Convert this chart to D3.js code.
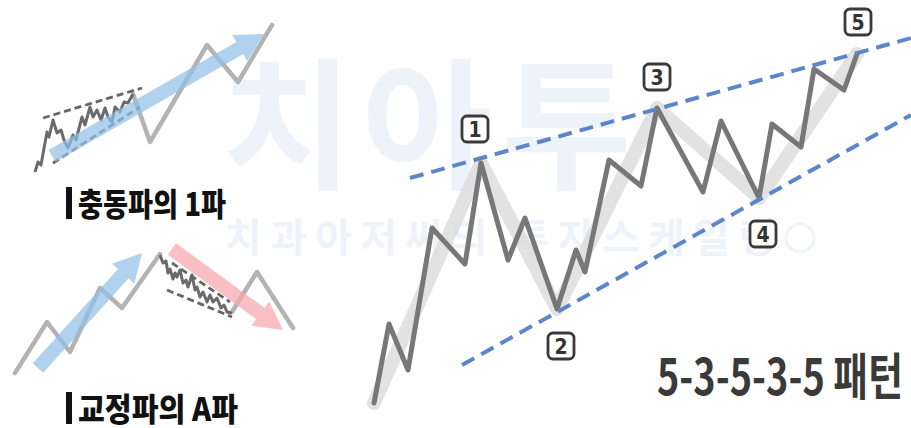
<!DOCTYPE html>
<html>
<head>
<meta charset="utf-8">
<script src="https://cdn.jsdelivr.net/npm/d3@7/dist/d3.min.js"></script>
<style>
  html, body { margin: 0; padding: 0; background: #fff; }
  svg { display: block; }
</style>
</head>
<body>
<svg id="my_svg"></svg>
<script>
const width = 911;
const height = 428;

// main wave: [x, value] (value grows upward)
const mainWave = [[374,25],[389,104],[408,58],[432,200],[465,164],[481,265],[508,168],[525,210],
  [557,119],[576,178],[585,156],[609,268],[641,242],[657,320],[703,236],[721,307],[759,230],
  [772,304],[801,281],[814,359],[844,338],[857,374]];
const mainShadow = [[374,25],[481,265],[557,119],[657,320],[759,230],[857,374]];
const upperTrend = [[410,250],[911,390]];
const lowerTrend = [[462,63],[911,313]];
const waveLabels = ['1', '2', '3', '4', '5'];
const waveLabelPos = [[475,299],[561,82],[657,351],[763,194],[858,406]];

// impulse wave 1 (top left)
const impulseWiggle = [[35,256],[38,266],[41,263],[47,296],[49,291],[53,308],[57,295],[61,298],
  [64,288],[68,280],[73,293],[76,288],[82,311],[85,303],[90,321],[93,311],[97,318],[101,308],
  [105,320],[108,311],[112,306],[115,321],[120,316],[124,326],[128,325],[133,334]];
const impulseGray = [[133,334],[150,286],[207,383],[238,346],[272,403]];
const impulseUpper = [[43,310],[142,340]];
const impulseLower = [[53,265],[140,321]];
const impulseArrow = [[52,272],[264,394]];

// corrective wave A (bottom left)
const corrGray1 = [[15,55],[47,106],[70,76],[100,140],[122,120],[160,174]];
const corrWiggle = [[160,173],[163,165],[166,167],[168,155],[170,159],[173,149],[175,155],[177,151],
  [180,158],[183,145],[186,148],[188,141],[192,153],[195,138],[197,141],[200,131],[203,136],
  [207,126],[210,133],[213,126],[217,130],[221,120],[224,123],[227,116],[232,115]];
const corrGray2 = [[232,116],[257,156],[293,100]];
const corrUpper = [[172,165],[230,126]];
const corrLower = [[167,138],[232,111]];
const corrBlueArrow = [[38,60],[142,175]];
const corrRedArrow = [[172,179],[283,98]];

const titles = ['충동파의 1파', '교정파의 A파'];
const patternTitle = '5-3-5-3-5 패턴';

const x = d3.scaleLinear().domain([0, width]).range([0, width]);
const y = d3.scaleLinear().domain([0, height]).range([height, 0]);

const svg = d3.select('#my_svg')
    .attr('width', width)
    .attr('height', height);

const line = d3.line().x(d => x(d[0])).y(d => y(d[1]));

// watermark
const wm = svg.append('g').attr('id', 'watermark');
wm.append('text')
    .attr('x', 222).attr('y', 178)
    .attr('font-family', 'Noto Sans CJK KR')
    .attr('font-weight', 700)
    .attr('font-size', 142)
    .attr('textLength', 410)
    .attr('lengthAdjust', 'spacing')
    .attr('fill', '#eef3f9')
    .text('치아투');
wm.append('text')
    .attr('x', 225).attr('y', 252)
    .attr('font-family', 'Noto Sans CJK KR')
    .attr('font-weight', 700)
    .attr('font-size', 40)
    .attr('textLength', 550)
    .attr('lengthAdjust', 'spacing')
    .attr('fill', '#eef3f9')
    .text('치과아저씨의 투자스케일링');
wm.append('circle')
    .attr('cx', 800).attr('cy', 238).attr('r', 14)
    .attr('fill', 'none').attr('stroke', '#eef3f9').attr('stroke-width', 3);

// arrow polygon built from tail/tip in scaled space
function arrowPath(pts, shaft, head, headLen) {
    const x0 = x(pts[0][0]), y0 = y(pts[0][1]);
    const x1 = x(pts[1][0]), y1 = y(pts[1][1]);
    const len = Math.hypot(x1 - x0, y1 - y0);
    const ux = (x1 - x0) / len, uy = (y1 - y0) / len;
    const nx = -uy, ny = ux;
    const bx = x1 - ux * headLen, by = y1 - uy * headLen;
    const p = [
        [x0 + nx * shaft, y0 + ny * shaft],
        [bx + nx * shaft, by + ny * shaft],
        [bx + nx * head, by + ny * head],
        [x1, y1],
        [bx - nx * head, by - ny * head],
        [bx - nx * shaft, by - ny * shaft],
        [x0 - nx * shaft, y0 - ny * shaft]
    ];
    return 'M' + p.map(q => q.join(',')).join('L') + 'Z';
}

function miniChart(g, grays, wiggle, upper, lower, arrows) {
    grays.forEach(pts => {
        g.append('path').attr('d', line(pts))
            .attr('fill', 'none').attr('stroke', '#b3b3b3')
            .attr('stroke-width', 4.5).attr('stroke-linejoin', 'round').attr('stroke-linecap', 'round');
    });
    g.append('path').attr('d', line(wiggle))
        .attr('fill', 'none').attr('stroke', '#6a6a6a')
        .attr('stroke-width', 3).attr('stroke-linejoin', 'round');
    [upper, lower].forEach(pts => {
        g.append('path').attr('d', line(pts))
            .attr('fill', 'none').attr('stroke', '#666')
            .attr('stroke-width', 2.8).attr('stroke-dasharray', '7 4');
    });
    arrows.forEach(a => {
        g.append('path').attr('d', arrowPath(a.pts, 7, 15, 28))
            .attr('fill', a.color).attr('opacity', 0.72);
    });
}

miniChart(svg.append('g').attr('id', 'impulse_g'),
    [impulseGray], impulseWiggle, impulseUpper, impulseLower,
    [{pts: impulseArrow, color: '#93c0e8'}]);

miniChart(svg.append('g').attr('id', 'corr_g'),
    [corrGray1, corrGray2], corrWiggle, corrUpper, corrLower,
    [{pts: corrBlueArrow, color: '#93c0e8'}, {pts: corrRedArrow, color: '#f7a6ac'}]);

// titles on the left
const titleY = [216, 421];
titles.forEach((t, i) => {
    svg.append('rect')
        .attr('x', 66).attr('y', titleY[i] - 29)
        .attr('width', 6).attr('height', 32)
        .attr('fill', '#111');
    svg.append('text')
        .attr('x', 78).attr('y', titleY[i])
        .attr('font-family', 'Noto Sans CJK KR')
        .attr('font-weight', 900)
        .attr('font-size', 32)
        .attr('textLength', i === 0 ? 148 : 160)
        .attr('lengthAdjust', 'spacingAndGlyphs')
        .attr('fill', '#111')
        .text(t);
});

// main chart
const main_g = svg.append('g').attr('id', 'main_g');
main_g.append('path').attr('d', line(mainShadow))
    .attr('fill', 'none').attr('stroke', '#d6d6d6').attr('stroke-opacity', 0.7)
    .attr('stroke-width', 14).attr('stroke-linejoin', 'round').attr('stroke-linecap', 'round');
main_g.append('path').attr('d', line(mainWave))
    .attr('fill', 'none').attr('stroke', '#777')
    .attr('stroke-width', 5).attr('stroke-linejoin', 'round').attr('stroke-linecap', 'round');
[upperTrend, lowerTrend].forEach(pts => {
    main_g.append('path').attr('d', line(pts))
        .attr('fill', 'none').attr('stroke', '#5b86cb')
        .attr('stroke-width', 4).attr('stroke-dasharray', '14 8');
});

const lab = main_g.selectAll('g.lab')
    .data(waveLabels)
    .enter().append('g')
    .attr('class', 'lab')
    .attr('transform', (d, i) => `translate(${x(waveLabelPos[i][0])}, ${y(waveLabelPos[i][1])})`);
lab.append('rect')
    .attr('x', -13).attr('y', -13).attr('width', 26).attr('height', 26)
    .attr('rx', 5)
    .attr('fill', '#fff').attr('stroke', '#3a3a3a').attr('stroke-width', 2.8);
lab.append('text')
    .attr('y', 8)
    .attr('text-anchor', 'middle')
    .attr('font-family', 'Liberation Sans Narrow, DejaVu Sans Condensed, sans-serif')
    .attr('font-weight', 700)
    .attr('font-size', 21)
    .attr('fill', '#333')
    .text(d => d);

svg.append('text')
    .attr('x', 657).attr('y', 395)
    .attr('font-family', 'Liberation Sans Narrow, Noto Sans CJK KR, sans-serif')
    .attr('font-weight', 700)
    .attr('font-size', 50)
    .attr('textLength', 246)
    .attr('lengthAdjust', 'spacingAndGlyphs')
    .attr('fill', '#3a3a3a')
    .text(patternTitle);
</script>
</body>
</html>
